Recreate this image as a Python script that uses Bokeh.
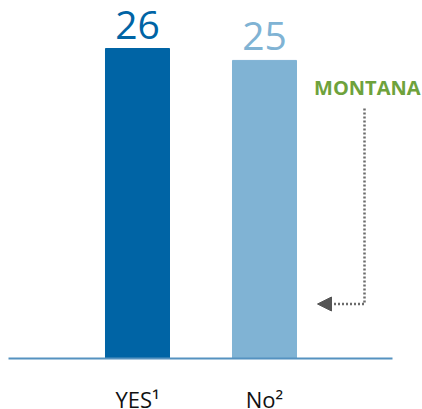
from bokeh.plotting import figure
from bokeh.models import Range1d, Arrow, NormalHead, ColumnDataSource
from bokeh.core.properties import value
from bokeh.embed import file_html
from bokeh.resources import INLINE

# ---- data ----
categories = ["YES\u00b9", "No\u00b2"]
positions = [1, 2]
values = [26, 25]
value_labels = ["26", "25"]
bar_colors = ["#0064a5", "#80b3d4"]
annotation_text = "MONTANA"

# ---- geometry helpers (picture px -> data) ----
W, H = 422, 409
PPX = 127.0
x_start = 1 - 137 / PPX
x_end = x_start + W / PPX
PPY = 310 / 26
y_end = 358 / PPY
y_start = -(H - 358) / PPY


def X(sx):
    return x_start + sx / PPX


def Y(sy):
    return y_end - sy / PPY


p = figure(width=W, height=H, output_backend="svg", toolbar_location=None,
           x_range=Range1d(x_start, x_end), y_range=Range1d(y_start, y_end),
           min_border=0, outline_line_color=None)
p.axis.visible = False
p.grid.visible = False
p.background_fill_color = "white"
p.border_fill_color = "white"

src = ColumnDataSource(dict(x=positions, top=values, color=bar_colors,
                            lab=value_labels, cat=categories))

p.vbar(x="x", top="top", width=0.504, color="color", source=src)

# baseline
p.segment(x0=[X(8)], y0=[0], x1=[X(392)], y1=[0], line_color="#5592c0", line_width=2)

# value labels
p.text(x="x", y="top", text="lab", source=src, text_color="color",
       text_font=value("Open Sans"), text_font_size="39px",
       text_align="center", text_baseline="bottom", y_offset=-10)

# category labels
p.text(x="x", y=0, text="cat", source=src, text_color="#111111",
       text_font=value("Open Sans"), text_font_size="22px",
       text_align="center", text_baseline="top", y_offset=25)

# annotation
p.text(x=[X(420)], y=[Y(73)], text=[annotation_text], text_color="#6ea23c",
       text_font=value("Open Sans"), text_font_style="bold", text_font_size="20px",
       text_align="right", text_baseline="top")

p.line(x=[X(364), X(364), X(332)], y=[Y(108), Y(303.5), Y(303.5)],
       line_color="#6b6b6b", line_width=2.5, line_dash="2 2")
p.add_layout(Arrow(end=NormalHead(size=14, fill_color="#555555", line_color="#555555"),
                   x_start=X(333), y_start=Y(303.5), x_end=X(317), y_end=Y(303.5),
                   line_alpha=0))

open("out.html", "w").write(file_html(p, INLINE))
